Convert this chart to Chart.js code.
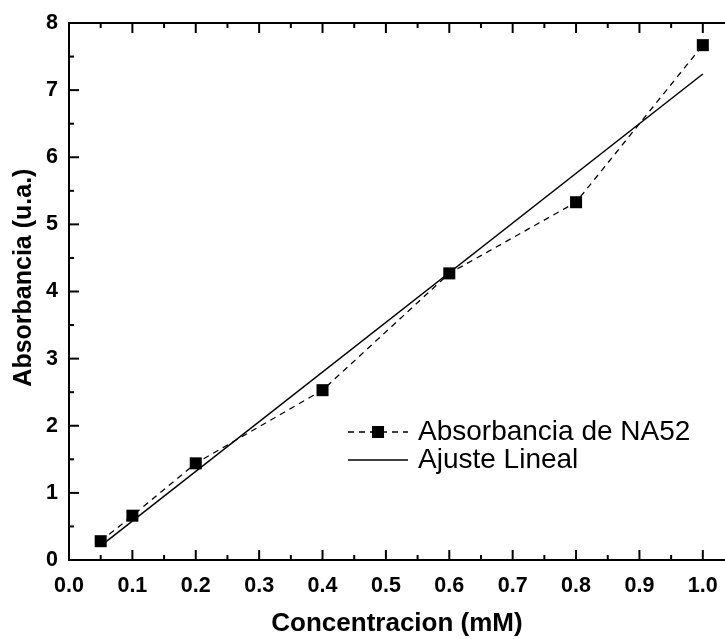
<!DOCTYPE html>
<html>
<head>
<meta charset="utf-8">
<script src="https://cdn.jsdelivr.net/npm/chart.js@4.4.1/dist/chart.umd.min.js"></script>
<style>
  html, body { margin: 0; padding: 0; background: #fff; }
  #wrap { width: 725px; height: 639px; }
</style>
</head>
<body>
<div id="wrap"><canvas id="c"></canvas></div>
<script>
// donnees
const concentracion = [0.05, 0.1, 0.2, 0.4, 0.6, 0.8, 1.0];
const absorbancia = [0.28, 0.66, 1.44, 2.53, 4.27, 5.33, 7.67];
const ajusteX = [0.05, 1.0];
const ajusteY = [0.21, 7.24];
const xTicks = [0.0, 0.1, 0.2, 0.3, 0.4, 0.5, 0.6, 0.7, 0.8, 0.9, 1.0];
const xMinor = [0.05, 0.15, 0.25, 0.35, 0.45, 0.55, 0.65, 0.75, 0.85, 0.95];
const yTicks = [0, 1, 2, 3, 4, 5, 6, 7, 8];
const yMinor = [0.5, 1.5, 2.5, 3.5, 4.5, 5.5, 6.5, 7.5];

const FONT = 'Liberation Sans, Arial, sans-serif';

// ticks vers l'interieur + cadre du haut
const frameTicks = {
  id: 'frameTicks',
  afterDatasetsDraw(chart) {
    const { ctx, chartArea: a, scales: { x, y } } = chart;
    ctx.save();
    ctx.strokeStyle = '#000';
    ctx.lineWidth = 2;
    ctx.beginPath();
    ctx.moveTo(a.left, a.top); ctx.lineTo(a.right, a.top);
    ctx.stroke();
    const tick = (vals, len) => {
      vals.forEach(v => {
        const px = x.getPixelForValue(v);
        ctx.beginPath();
        ctx.moveTo(px, a.bottom); ctx.lineTo(px, a.bottom - len);
        ctx.moveTo(px, a.top); ctx.lineTo(px, a.top + len);
        ctx.stroke();
      });
    };
    const tickY = (vals, len) => {
      vals.forEach(v => {
        const py = y.getPixelForValue(v);
        ctx.beginPath();
        ctx.moveTo(a.left, py); ctx.lineTo(a.left + len, py);
        ctx.stroke();
      });
    };
    tick(xTicks, 10); tick(xMinor, 5);
    tickY(yTicks, 10); tickY(yMinor, 5);
    ctx.restore();
  }
};

// legende dessinee a la main (ligne pointillee + carre)
const legendBox = {
  id: 'legendBox',
  afterDraw(chart) {
    const ctx = chart.ctx;
    const ds = chart.data.datasets;
    ctx.save();
    ctx.font = '28px ' + FONT;
    ctx.fillStyle = '#000';
    ctx.textBaseline = 'middle';
    // entree 1
    ctx.strokeStyle = '#000';
    ctx.lineWidth = 1.3;
    ctx.setLineDash([6, 5]);
    ctx.beginPath(); ctx.moveTo(348, 432); ctx.lineTo(408, 432); ctx.stroke();
    ctx.setLineDash([]);
    ctx.fillRect(372, 426, 12, 12);
    ctx.fillText(ds[0].label, 418, 432);
    // entree 2
    ctx.lineWidth = 1.5;
    ctx.beginPath(); ctx.moveTo(348, 460); ctx.lineTo(408, 460); ctx.stroke();
    ctx.fillText(ds[1].label, 418, 460);
    ctx.restore();
  }
};

new Chart(document.getElementById('c'), {
  type: 'scatter',
  data: {
    datasets: [
      {
        label: 'Absorbancia de NA52',
        data: concentracion.map((c, i) => ({ x: c, y: absorbancia[i] })),
        showLine: true,
        borderColor: '#000',
        borderWidth: 1.3,
        borderDash: [6, 5],
        pointStyle: 'rect',
        pointRadius: 8.5,
        pointBackgroundColor: '#000',
        pointBorderWidth: 0
      },
      {
        label: 'Ajuste Lineal',
        data: ajusteX.map((c, i) => ({ x: c, y: ajusteY[i] })),
        showLine: true,
        borderColor: '#000',
        borderWidth: 1.5,
        pointRadius: 0
      }
    ]
  },
  options: {
    responsive: true,
    maintainAspectRatio: false,
    animation: false,
    layout: { autoPadding: false, padding: { top: 23, right: 0, bottom: 0, left: 0 } },
    plugins: { legend: { display: false }, tooltip: { enabled: false } },
    scales: {
      x: {
        type: 'linear',
        min: 0, max: 1.035,
        afterBuildTicks: s => { s.ticks = xTicks.map(v => ({ value: v })); },
        afterFit: s => { s.height = 79; s.paddingLeft = 0; s.paddingRight = 0; },
        grid: { display: false, drawTicks: false },
        border: { display: true, color: '#000', width: 2 },
        ticks: {
          color: '#000', padding: 13,
          font: { family: FONT, size: 21.5, weight: 'bold' },
          callback: v => v.toFixed(1)
        },
        title: {
          display: true, text: 'Concentracion (mM)', color: '#000',
          font: { family: FONT, size: 26, weight: 'bold' },
          padding: { top: 0, bottom: 0 }
        }
      },
      y: {
        type: 'linear',
        min: 0, max: 8,
        afterBuildTicks: s => { s.ticks = yTicks.map(v => ({ value: v })); },
        afterFit: s => { s.width = 69; s.paddingTop = 0; s.paddingBottom = 0; },
        grid: { display: false, drawTicks: false },
        border: { display: true, color: '#000', width: 2 },
        ticks: {
          color: '#000', padding: 11,
          font: { family: FONT, size: 21.5, weight: 'bold' }
        },
        title: {
          display: true, text: '    Absorbancia (u.a.)', color: '#000',
          font: { family: FONT, size: 25, weight: 'bold' },
          padding: { top: 9, bottom: 0 }
        }
      }
    }
  },
  plugins: [frameTicks, legendBox]
});
</script>
</body>
</html>
